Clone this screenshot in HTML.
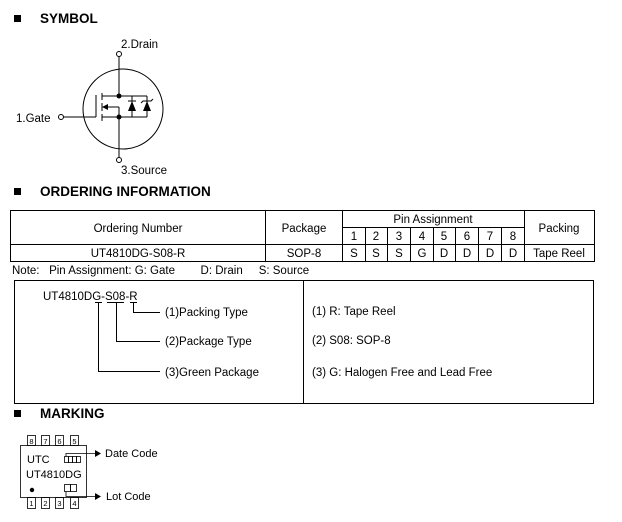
<!DOCTYPE html>
<html><head><meta charset="utf-8"><style>
html,body{margin:0;padding:0;background:#fff;}
body{width:622px;height:522px;position:relative;overflow:hidden;font-family:"Liberation Sans",Arial,sans-serif;}
svg{position:absolute;left:0;top:0;}
</style></head><body>
<svg width="622" height="522" viewBox="0 0 622 522" font-family="Liberation Sans, Arial, sans-serif">
<!-- Headers -->
<rect x="14" y="15" width="7" height="7" fill="#000"/>
<text x="40" y="23" font-size="13.5" font-weight="bold">SYMBOL</text>
<rect x="14" y="188" width="7" height="7" fill="#000"/>
<text x="40" y="196" font-size="13.5" font-weight="bold">ORDERING INFORMATION</text>
<rect x="14" y="410" width="7" height="7" fill="#000"/>
<text x="40" y="418" font-size="13.5" font-weight="bold">MARKING</text>

<!-- Symbol -->
<g stroke="#000" stroke-width="1" fill="none">
<circle cx="123" cy="109" r="40"/>
<circle cx="119" cy="54" r="2.5" fill="#fff"/>
<circle cx="119" cy="160" r="2.5" fill="#fff"/>
<circle cx="61" cy="117" r="2.5" fill="#fff"/>
<line x1="119" y1="56.5" x2="119" y2="96"/>
<line x1="119" y1="117" x2="119" y2="157.5"/>
<line x1="63.5" y1="117" x2="96" y2="117"/>
<line x1="96" y1="95" x2="96" y2="117"/>
<line x1="102" y1="93" x2="102" y2="100"/>
<line x1="102" y1="103" x2="102" y2="111"/>
<line x1="102" y1="114" x2="102" y2="121"/>
<line x1="102" y1="96" x2="147" y2="96"/>
<line x1="102" y1="117" x2="147" y2="117"/>
<line x1="106" y1="107" x2="119" y2="107"/>
<line x1="119" y1="107" x2="119" y2="117"/>
<line x1="132" y1="96" x2="132" y2="117"/>
<line x1="147" y1="96" x2="147" y2="117"/>
<line x1="128" y1="101" x2="136" y2="101"/>
<polyline points="141,103 143,101 151,101 153,99"/>
</g>
<polygon points="102,107 108,104 108,110" fill="#000"/>
<polygon points="128,111 136,111 132,101" fill="#000"/>
<polygon points="143,111 151,111 147,101" fill="#000"/>
<circle cx="119" cy="96" r="2.5" fill="#000"/>
<circle cx="119" cy="117" r="2.5" fill="#000"/>
<text x="121" y="48" font-size="11.5">2.Drain</text>
<text x="16" y="122" font-size="11.5">1.Gate</text>
<text x="121" y="174" font-size="11.5">3.Source</text>

<!-- Table -->
<g stroke="#000" stroke-width="1" fill="none">
<rect x="10.5" y="210.5" width="584" height="51"/>
<line x1="10.5" y1="244.5" x2="594.5" y2="244.5"/>
<line x1="265.5" y1="210.5" x2="265.5" y2="261.5"/>
<line x1="342.5" y1="210.5" x2="342.5" y2="261.5"/>
<line x1="524.5" y1="210.5" x2="524.5" y2="261.5"/>
<line x1="342.5" y1="227.5" x2="524.5" y2="227.5"/>
<line x1="365.5" y1="227.5" x2="365.5" y2="261.5"/>
<line x1="387.5" y1="227.5" x2="387.5" y2="261.5"/>
<line x1="410.5" y1="227.5" x2="410.5" y2="261.5"/>
<line x1="433.5" y1="227.5" x2="433.5" y2="261.5"/>
<line x1="455.5" y1="227.5" x2="455.5" y2="261.5"/>
<line x1="478.5" y1="227.5" x2="478.5" y2="261.5"/>
<line x1="501.5" y1="227.5" x2="501.5" y2="261.5"/>
</g>
<g font-size="11.5" text-anchor="middle">
<text x="138" y="232">Ordering Number</text>
<text x="304" y="232">Package</text>
<text x="433" y="223">Pin Assignment</text>
<text x="559" y="232">Packing</text>
<text x="354" y="240">1</text><text x="376" y="240">2</text><text x="399" y="240">3</text><text x="422" y="240">4</text>
<text x="444" y="240">5</text><text x="467" y="240">6</text><text x="490" y="240">7</text><text x="513" y="240">8</text>
<text x="138" y="257">UT4810DG-S08-R</text>
<text x="304" y="257">SOP-8</text>
<text x="354" y="257">S</text><text x="376" y="257">S</text><text x="399" y="257">S</text><text x="422" y="257">G</text>
<text x="444" y="257">D</text><text x="467" y="257">D</text><text x="490" y="257">D</text><text x="513" y="257">D</text>
<text x="559" y="257">Tape Reel</text>
</g>
<text x="12" y="274" font-size="11.5" xml:space="preserve">Note:   Pin Assignment: G: Gate        D: Drain     S: Source</text>

<!-- Box -->
<g stroke="#000" stroke-width="1" fill="none">
<rect x="14.5" y="280.5" width="579" height="123"/>
<line x1="303.5" y1="280.5" x2="303.5" y2="403.5"/>
<line x1="95" y1="302.5" x2="102" y2="302.5"/>
<line x1="107" y1="302.5" x2="124" y2="302.5"/>
<line x1="130" y1="302.5" x2="137" y2="302.5"/>
<polyline points="133.5,302.5 133.5,312.5 160,312.5"/>
<polyline points="116.5,302.5 116.5,341.5 160,341.5"/>
<polyline points="98.5,302.5 98.5,371.5 160,371.5"/>
</g>
<g font-size="11.5">
<text x="43" y="300">UT4810DG-S08-R</text>
<text x="165" y="316">(1)Packing Type</text>
<text x="165" y="345">(2)Package Type</text>
<text x="165" y="376">(3)Green Package</text>
<text x="312" y="315">(1) R: Tape Reel</text>
<text x="312" y="344">(2) S08: SOP-8</text>
<text x="312" y="376">(3) G: Halogen Free and Lead Free</text>
</g>

<!-- Marking -->
<g stroke="#000" stroke-width="0.8" fill="none">
<rect x="20.5" y="445.5" width="66" height="52"/>
<rect x="27.5" y="435.5" width="8" height="10"/>
<rect x="41.5" y="435.5" width="8" height="10"/>
<rect x="55.5" y="435.5" width="8" height="10"/>
<rect x="70.5" y="435.5" width="8" height="10"/>
<rect x="27.5" y="497.5" width="8" height="11"/>
<rect x="41.5" y="497.5" width="8" height="11"/>
<rect x="55.5" y="497.5" width="8" height="11"/>
<rect x="70.5" y="497.5" width="8" height="11"/>
<rect x="64.5" y="456.5" width="4" height="6"/>
<rect x="68.5" y="456.5" width="4" height="6"/>
<rect x="72.5" y="456.5" width="4" height="6"/>
<rect x="76.5" y="456.5" width="4" height="6"/>
<rect x="64.5" y="484.5" width="6" height="7"/>
<rect x="70.5" y="484.5" width="6" height="7"/>
<polyline points="66,456.5 66,453.5 96,453.5"/>
<polyline points="66,491.5 66,496.5 96,496.5"/>
</g>
<polygon points="95,450 101,453.5 95,457" fill="#000"/>
<polygon points="95,493 101,496.5 95,500" fill="#000"/>
<circle cx="32" cy="490" r="2.2" fill="#000"/>
<g font-size="7.5" text-anchor="middle">
<text x="31.5" y="444">8</text><text x="45.5" y="444">7</text><text x="59.5" y="444">6</text><text x="74.5" y="444">5</text>
<text x="31.5" y="506">1</text><text x="45.5" y="506">2</text><text x="59.5" y="506">3</text><text x="74.5" y="506">4</text>
</g>
<text x="27" y="463" font-size="11">UTC</text>
<text x="26" y="478" font-size="11">UT4810DG</text>
<text x="105" y="457" font-size="11">Date Code</text>
<text x="106" y="500" font-size="11">Lot Code</text>
</svg>
</body></html>
